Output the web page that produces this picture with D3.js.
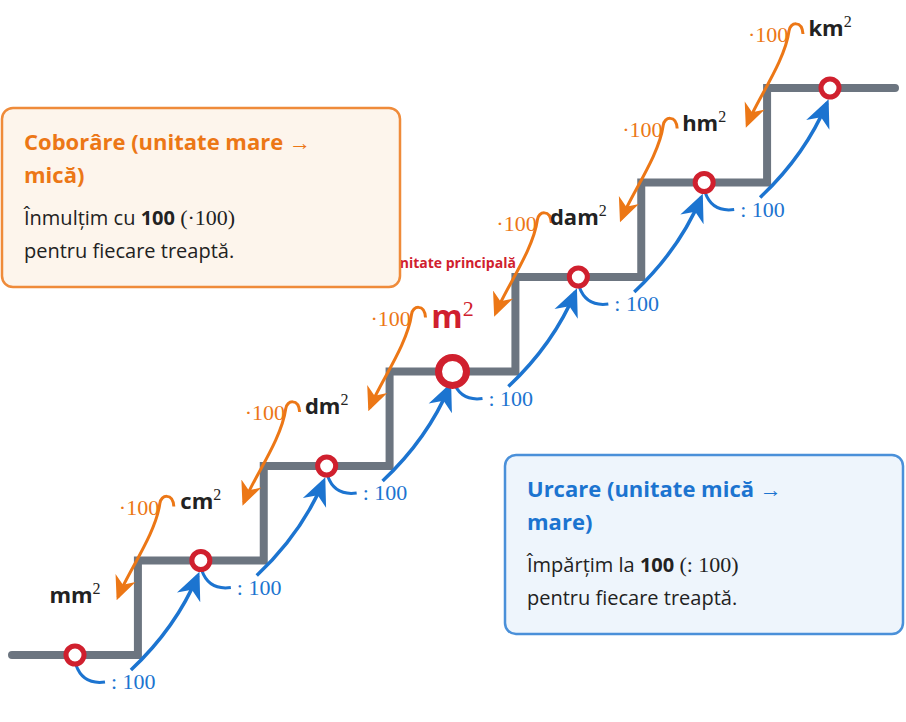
<!DOCTYPE html><html><head><meta charset="utf-8"><script src="https://d3js.org/d3.v7.min.js"></script>
<style>body{margin:0;background:#fff}</style></head><body><svg id="c" width="906" height="722"></svg>
<script>
const units=["mm","cm","dm","m","dam","hm","km"];
const steps=[0,1,2,3,4,5,6];
const mainIndex=3;
const factor="100";
const svg=d3.select("#c");
const x=d3.scaleLinear().domain([0,6]).range([75,830]);
const y=d3.scaleLinear().domain([0,6]).range([655,88]);
const half=(x(1)-x(0))/2;
const G="#6c7580",R="#d0202e",B="#1c74d0",O="#ec7716";
const defs=svg.append("defs");
function mk(id,c){defs.append("marker").attr("id",id).attr("viewBox","0 0 20 20").attr("refX",17).attr("refY",10)
 .attr("markerWidth",8).attr("markerHeight",8).attr("orient","auto").attr("markerUnits","strokeWidth")
 .append("path").attr("d","M0,1 L20,10 L0,19 L6,10Z").attr("fill",c);}
mk("ab",B);mk("ao",O);
let d=`M12,${y(0)}`;
steps.forEach(i=>{ if(i<6){d+=`L${x(i)+half},${y(i)}L${x(i)+half},${y(i+1)}`;} else d+=`L895,${y(6)}`;});
svg.append("path").attr("d",d).attr("fill","none").attr("stroke",G).attr("stroke-width",8).attr("stroke-linecap","round").attr("stroke-linejoin","miter");
steps.slice(0,6).forEach(i=>{
 const x0=x(i)+half-7,y0=y(i)+15,x1=x(i+1)-3,y1=y(i+1)+15;
 svg.append("path").attr("d",`M${x0},${y0} Q${x0+45},${(y0+y1)/2+5} ${x1},${y1}`).attr("fill","none").attr("stroke",B).attr("stroke-width",3.5).attr("marker-end","url(#ab)");
});
steps.slice(0,6).forEach(i=>{
 const cx=x(i),cy=y(i);
 svg.append("path").attr("d",`M${cx+1},${cy+10} Q${cx+8},${cy+30} ${cx+30},${cy+27}`).attr("fill","none").attr("stroke",B).attr("stroke-width",3);
 svg.append("text").attr("x",cx+36).attr("y",cy+34).attr("fill",B).attr("font-family","Liberation Serif, DejaVu Serif").attr("font-size",22).text(": "+factor);
});
svg.append("text").attr("x",x(mainIndex)).attr("y",y(mainIndex)-104).attr("text-anchor","middle").attr("fill",R).attr("font-family","Open Sans").attr("font-weight","bold").attr("font-size",14).text("Unitate principală");
steps.slice(1).forEach(i=>{
 const cx=x(i),ly=y(i)-52;
 const tx=x(i-1)+43,ty=y(i-1)-58;
 svg.append("text").attr("x",cx-82).attr("y",ly+6).attr("fill",O).attr("font-family","Liberation Serif, DejaVu Serif").attr("font-size",22).text("·"+factor);
 svg.append("path").attr("d",`M${cx-27},${ly-2} C${cx-28},${ly-16} ${cx-40},${ly-14} ${cx-41},${ly-5} C${cx-45},${ly+25} ${tx+10},${ty-25} ${tx},${ty}`)
  .attr("fill","none").attr("stroke",O).attr("stroke-width",3).attr("marker-end","url(#ao)");
});
steps.forEach(i=>{
 const m=i===mainIndex;
 const t=svg.append("text").attr("x",x(i)).attr("y",y(i)-(m?44:52)).attr("text-anchor","middle").attr("fill",m?R:"#222")
  .attr("font-family","Open Sans").attr("font-weight","bold").attr("font-size",m?32:22);
 t.append("tspan").text(units[i]);
 t.append("tspan").attr("dy",m?-12:-9).attr("font-size",m?22:16).attr("font-weight","normal").attr("font-family","Liberation Serif").text("2");
});
steps.forEach(i=>{
 const m=i===mainIndex;
 svg.append("circle").attr("cx",x(i)).attr("cy",y(i)).attr("r",m?14:9).attr("fill","#fff").attr("stroke",R).attr("stroke-width",m?7:5);
});
function box(x0,y0,w,h,fill,st,tc,lines,body){
 svg.append("rect").attr("x",x0).attr("y",y0).attr("width",w).attr("height",h).attr("rx",11).attr("fill",fill).attr("stroke",st).attr("stroke-width",2.5);
 lines.forEach((l,k)=>svg.append("text").attr("x",x0+22).attr("y",y0+42+k*33).attr("fill",tc).attr("font-family","Open Sans").attr("font-weight","bold").attr("font-size",22).text(l));
 body.forEach((b,k)=>{const t=svg.append("text").attr("x",x0+22).attr("y",y0+117+k*33).attr("fill","#222").attr("font-family","Open Sans").attr("font-size",20);
  b.forEach(s=>t.append("tspan").attr("font-weight",s[1]?"bold":"normal").attr("font-family",s[2]?"Liberation Serif":"Open Sans").attr("font-size",s[2]?22:20).text(s[0]));});
}
box(2,108,398,179,"#fdf5ec","#ef8b3a",O,["Coborâre (unitate mare →","mică)"],[[["Înmulțim cu "],["100",1],[" "],["(·100)",0,1]],[["pentru fiecare treaptă."]]]);
box(505,455,398,179,"#eef5fc","#4a90d9",B,["Urcare (unitate mică →","mare)"],[[["Împărțim la "],["100",1],[" "],["(: 100)",0,1]],[["pentru fiecare treaptă."]]]);
</script></body></html>
